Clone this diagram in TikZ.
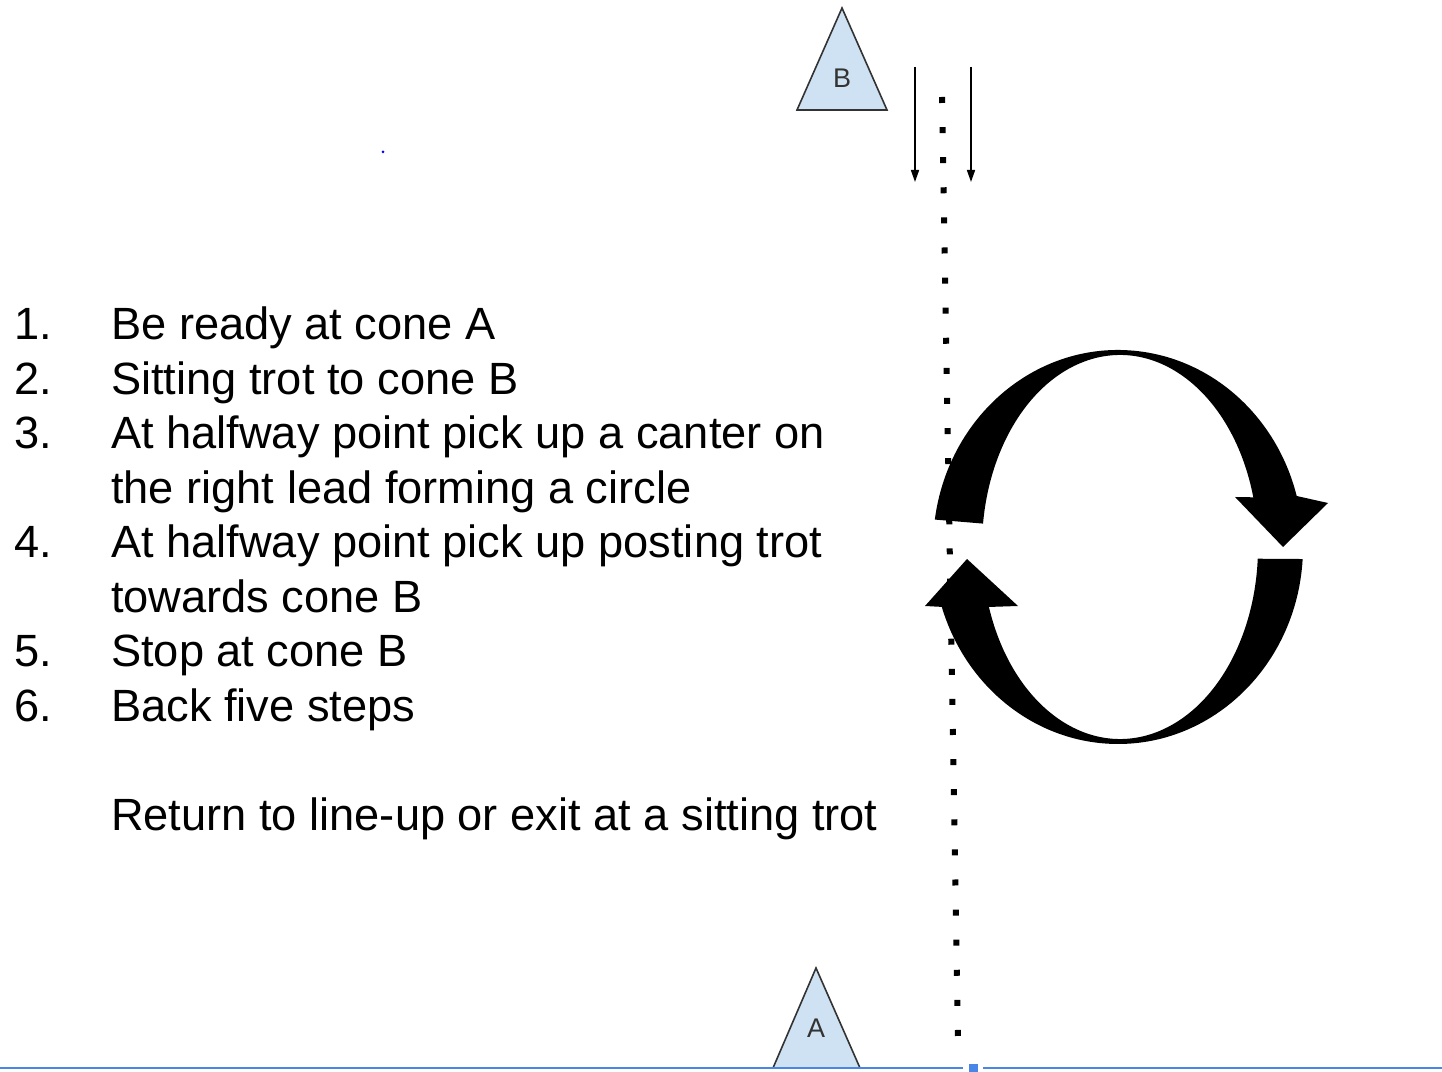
\documentclass[tikz,border=0pt]{standalone}
\usepackage{fontspec}
\setmainfont{Liberation Sans}
\usepackage{xcolor}
\usetikzlibrary{arrows.meta}
\definecolor{conefill}{HTML}{CFE2F3}
\definecolor{coneline}{HTML}{333333}
\definecolor{groundbl}{HTML}{4A86E8}
\tikzset{
  cone/.style={draw=coneline, fill=conefill, line width=1.6pt, line join=miter},
  conelab/.style={text=coneline, inner sep=0pt, font=\fontsize{27}{30}\selectfont},
  num/.style={anchor=base west, inner sep=0pt, font=\fontsize{45.2}{54}\selectfont},
  txt/.style={num},
  lane/.style={draw=black, line width=6pt, dash pattern=on 6pt off 24.1pt},
  dirarrow/.style={draw=black, line width=1.6pt, -{Triangle[length=12pt,width=8pt]}},
  turn/.style={fill=black},
  ground/.style={draw=groundbl, line width=2pt},
}

\begin{document}
\begin{tikzpicture}[x=1pt,y=1pt]
  \useasboundingbox (0,0) rectangle (1442,1071);

  % cones
  \coordinate (B1) at (842,1063);
  \coordinate (B2) at (797,961);
  \coordinate (B3) at (887,961);
  \coordinate (A1) at (816,103);
  \coordinate (A2) at (773,3);
  \coordinate (A3) at (860,3);
  \draw[cone] (B1) -- (B2) -- (B3) -- cycle;
  \draw[cone] (A1) -- (A2) -- (A3) -- cycle;
  \node[conelab] (labB) at (842,993) {B};
  \node[conelab] (labA) at (816,43) {A};

  % direction and track
  \coordinate (la) at (915,1004);
  \coordinate (lb) at (915,889);
  \coordinate (ra) at (971,1004);
  \coordinate (rb) at (971,889);
  \draw[dirarrow] (la) -- (lb);
  \draw[dirarrow] (ra) -- (rb);
  \coordinate (trackB) at (942,974);
  \coordinate (trackA) at (958,34);
  \draw[lane] (trackB) -- (trackA);

  % circle
  \coordinate (cout) at (1118,524);
  \coordinate (cin) at (1120,524);
  \fill[turn] ([shift={(cout)}]172:185 and 197)
    arc[start angle=172, end angle=15, x radius=185, y radius=197]
    -- (1328,568) -- (1283,524) -- (1235,574)
    -- ([shift={(cin)}]15:138 and 192)
    arc[start angle=15, end angle=173, x radius=138, y radius=192] -- cycle;
  \fill[turn] ([shift={(cout)}]-3.5:185 and 197)
    arc[start angle=-3.5, end angle=-162.3, x radius=185, y radius=197]
    -- (925,465) -- (967,512) -- (1018,465)
    -- ([shift={(cin)}]-161.8:138 and 192)
    arc[start angle=-161.8, end angle=-3.5, x radius=138, y radius=192] -- cycle;

  % steps
  \node[num] (n1) at (14,731) {1.};
  \node[txt] (t1) at (111,731) {Be ready at cone A};
  \node[num] (n2) at (14,676.5) {2.};
  \node[txt] (t2) at (111,676.5) {Sitting trot to cone B};
  \node[num] (n3) at (14,622) {3.};
  \node[txt] (t3) at (111,622) {At halfway point pick up a canter on};
  \node[txt] (t3b) at (111,567.5) {the right lead forming a circle};
  \node[num] (n4) at (14,513) {4.};
  \node[txt] (t4) at (111,513) {At halfway point pick up posting trot};
  \node[txt] (t4b) at (111,458.5) {towards cone B};
  \node[num] (n5) at (14,404) {5.};
  \node[txt] (t5) at (111,404) {Stop at cone B};
  \node[num] (n6) at (14,349.5) {6.};
  \node[txt] (t6) at (111,349.5) {Back five steps};
  \node[txt] (ret) at (111,240.5) {Return to line-up or exit at a sitting trot};

  % ground line
  \node[fill=groundbl, minimum size=9pt, inner sep=0pt] (handle) at (973,3) {};
  \coordinate (gl) at (0,3);
  \coordinate (gr) at (1442,3);
  \draw[ground] (gl) -- ([xshift=-10pt]handle.center);
  \draw[ground] ([xshift=10pt]handle.center) -- (gr);
  \node[circle, fill=blue, inner sep=0pt, minimum size=3pt] (spot) at (383,919) {};
\end{tikzpicture}
\end{document}
